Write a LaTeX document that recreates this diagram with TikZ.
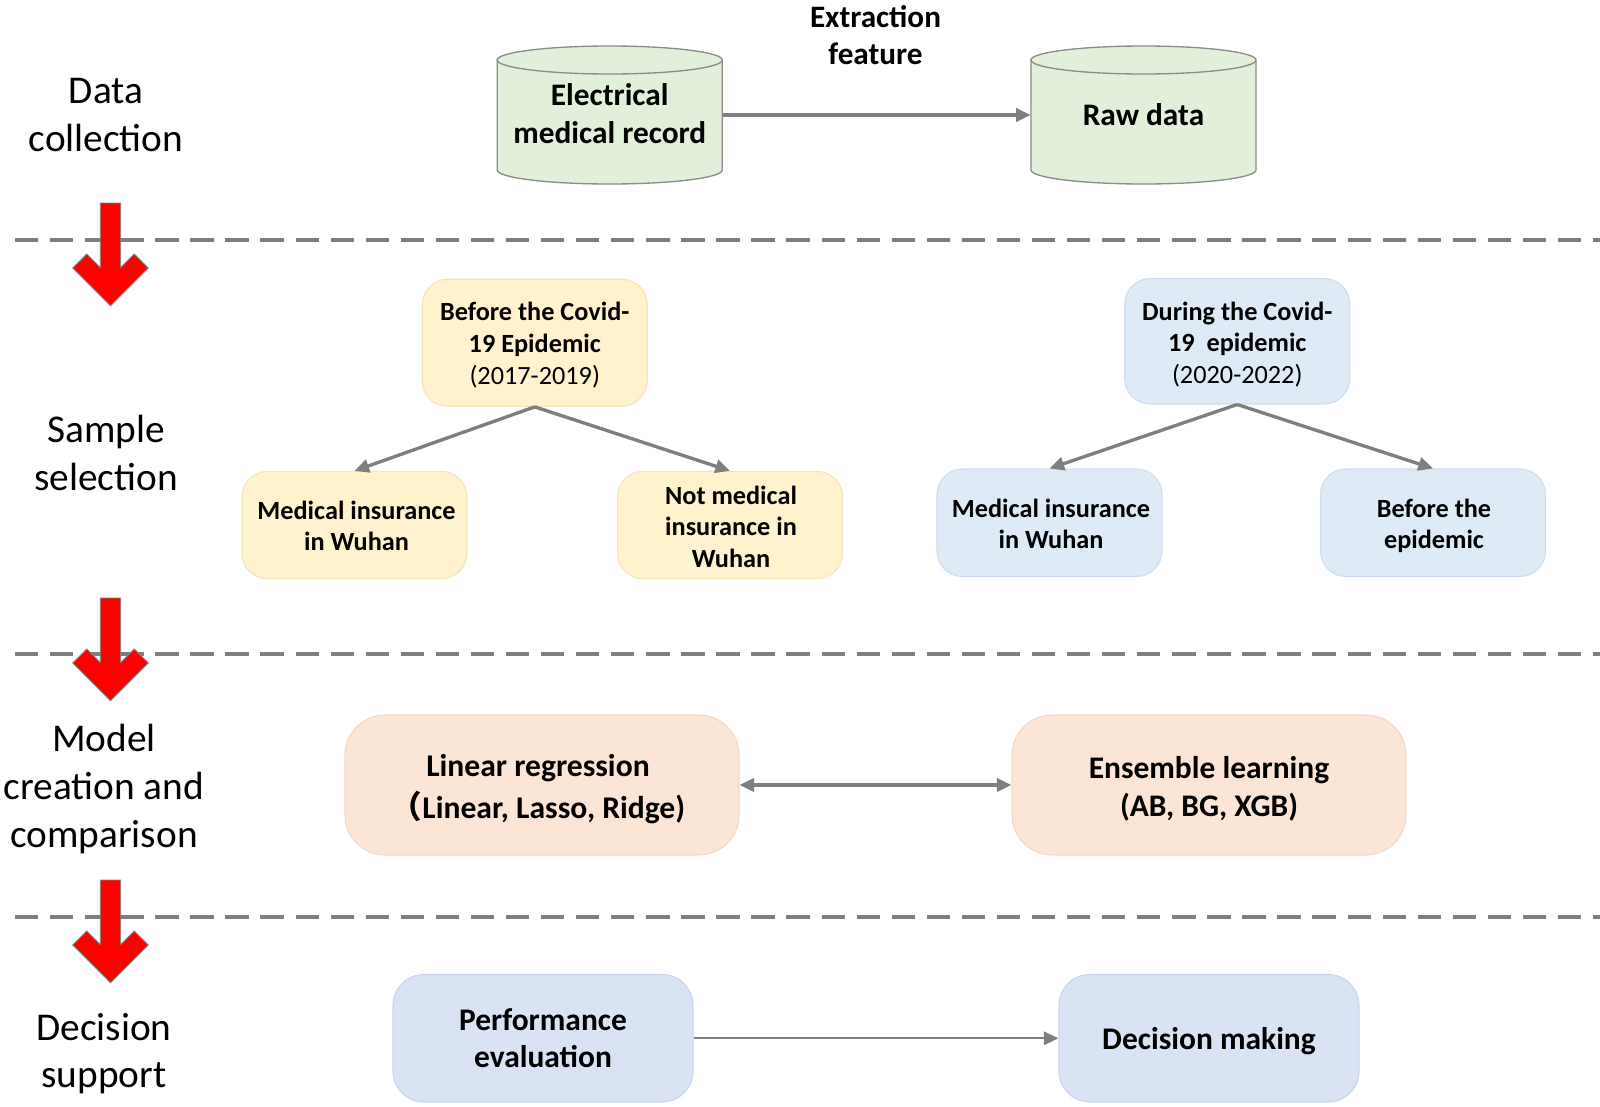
\documentclass[tikz,border=0pt]{standalone}
\usepackage{fontspec}
\setmainfont{Carlito}
\newfontfamily\cjkfont{Noto Sans CJK SC}
\usetikzlibrary{arrows.meta}
\definecolor{cgray}{HTML}{7F7F7F}
\definecolor{cylfill}{HTML}{E2EFDA}
\definecolor{cylline}{HTML}{8C8C8C}
\definecolor{yfill}{HTML}{FFF2CC}
\definecolor{yline}{HTML}{F3E4BB}
\definecolor{bfill}{HTML}{DEEBF7}
\definecolor{bline}{HTML}{CFDDEC}
\definecolor{ofill}{HTML}{FBE5D6}
\definecolor{oline}{HTML}{F1D9C9}
\definecolor{pfill}{HTML}{DAE3F3}
\definecolor{pline}{HTML}{CBD5EA}
\definecolor{redarrow}{HTML}{FF0000}
\definecolor{redline}{HTML}{6E8C8C}
\begin{document}
\begin{tikzpicture}[x=0.75pt,y=-0.75pt,
  lbl/.style={font=\fontsize{29.5}{35.3}\selectfont, align=center, inner sep=0pt},
  cyltxt/.style={font=\bfseries\fontsize{23.5}{28}\selectfont, align=center, inner sep=0pt},
  cylbox/.style={minimum width=168.75pt, minimum height=103.5pt, inner sep=0pt},
  smallbox/.style={rounded corners=19pt, line width=0.8pt, inner sep=0pt, minimum width=168.75pt},
  smalltxt/.style={font=\bfseries\fontsize{19.7}{23.7}\selectfont, align=center, inner sep=0pt},
  ybox/.style={smallbox, fill=yfill, draw=yline},
  bbox/.style={smallbox, fill=bfill, draw=bline},
  obox/.style={rounded corners=30pt, line width=0.8pt, inner sep=0pt,
    minimum width=295.5pt, minimum height=105pt, fill=ofill, draw=oline},
  pbox/.style={rounded corners=23pt, line width=0.8pt, inner sep=0pt,
    minimum width=225pt, minimum height=95.6pt, fill=pfill, draw=pline},
  bigtxt/.style={font=\bfseries\fontsize{23.6}{28.3}\selectfont, align=center, inner sep=0pt},
  conn/.style={draw=cgray, line width=2.4pt, -{Triangle[length=11pt,width=10pt]}},
  sep/.style={draw=cgray, line width=2.6pt, dash pattern=on 17.5pt off 8.8pt},
  cylbody/.style={fill=cylfill, draw=cylline, line width=1pt},
  redarr/.style={fill=redarrow, draw=redline, line width=0.6pt}
]
\useasboundingbox (0,0) rectangle (1600,1107);

% separators
\draw[sep] (15,240) -- (1600,240);
\draw[sep] (15,654) -- (1600,654);
\draw[sep] (15,917) -- (1600,917);

% red arrows
\foreach \t in {203,598,880}{
  \draw[redarr] (100.3,\t) -- (120.7,\t) -- (120.7,\t+64.6) -- (134.3,\t+51) -- (148.3,\t+65)
    -- (110.5,\t+102.8) -- (72.7,\t+65) -- (86.7,\t+51) -- (100.3,\t+64.6) -- cycle;
}

% left labels
\node[lbl] (l1) at (106,115) {Data\\collection};
\node[lbl] (l2) at (106,453) {Sample\\selection};
\node[lbl, font=\fontsize{29.5}{36}\selectfont] (l3) at (104,789) {Model\\creation and\\comparison};
\node[lbl] (l4) at (104,1054) {Decision\\support};

% cylinders
\foreach \c in {609.75,1143.5}{
  \draw[cylbody] (\c-112.5,60) -- (\c-112.5,170)
     arc[start angle=180,end angle=360,x radius=84.4pt,y radius=10.5pt]
     -- (\c+112.5,60)
     arc[start angle=0,end angle=180,x radius=84.4pt,y radius=10.5pt] -- cycle;
  \draw[cylline, line width=1pt] (\c-112.5,60)
     arc[start angle=180,end angle=360,x radius=84.4pt,y radius=10.5pt];
}
\node[cylbox] (cyl1) at (609.75,115) {};
\node[cylbox] (cyl2) at (1143.5,115) {};
\node[cyltxt] (cyl1t) at (609.75,113.5) {Electrical\\medical record};
\node[cyltxt] (cyl2t) at (1143.5,115) {Raw data};
\node[font=\bfseries\fontsize{23.4}{28}\selectfont, align=center, inner sep=0pt] (ext) at (875.5,35) {Extraction\\feature};
\draw[conn] (cyl1.east) -- (cyl2.west);

% sample selection
\node[ybox, minimum height=95.3pt] (y1) at (534.75,342.8) {};
\node[ybox, minimum height=80.4pt] (y2) at (354.5,525) {};
\node[ybox, minimum height=80.4pt] (y3) at (730,525) {};
\node[bbox, minimum height=94pt] (b1) at (1237.25,341.3) {};
\node[bbox, minimum height=80.6pt] (b2) at (1049.5,522.75) {};
\node[bbox, minimum height=80.6pt] (b3) at (1433,522.75) {};
\node[smalltxt] (y1t) at (534.75,345) {Before the Covid-\\19 Epidemic\\\mdseries (2017-2019)};
\node[smalltxt] (y2t) at (356.5,526) {Medical insurance\\in Wuhan};
\node[smalltxt] (y3t) at (731,526.5) {Not medical\\insurance in\\Wuhan};
\node[smalltxt] (b1t) at (1237.25,344.4) {During the Covid-\\19\ \ epidemic\\\mdseries (2020-2022)};
\node[smalltxt] (b2t) at (1051,524) {Medical insurance\\in Wuhan};
\node[smalltxt] (b3t) at (1434,525.8) {Before the\\epidemic};
\draw[conn, line width=2.5pt] (y1.south) -- (y2.north);
\draw[conn, line width=2.5pt] (y1.south) -- (y3.north);
\draw[conn, line width=2.5pt] (b1.south) -- (b2.north);
\draw[conn, line width=2.5pt] (b1.south) -- (b3.north);

% model creation
\node[obox] (o1) at (542,785) {};
\node[obox] (o2) at (1209,785) {};
\node[bigtxt, font=\bfseries\fontsize{23.7}{31.5}\selectfont] (o1t) at (538,789) {Linear regression\\{\cjkfont （}Linear, Lasso, Ridge)};
\node[bigtxt] (o2t) at (1209,788.5) {Ensemble learning\\(AB, BG, XGB)};
\draw[conn, {Triangle[length=11pt,width=10pt]}-{Triangle[length=11pt,width=10pt]}] (o1.east) -- (o2.west);

% decision support
\node[pbox] (p1) at (543,1038.25) {};
\node[pbox] (p2) at (1209,1038.25) {};
\node[bigtxt] (p1t) at (543,1038.25) {Performance\\evaluation};
\node[bigtxt] (p2t) at (1209,1041.3) {Decision making};
\draw[conn, line width=1.6pt] (p1.east) -- (p2.west);
\end{tikzpicture}
\end{document}
